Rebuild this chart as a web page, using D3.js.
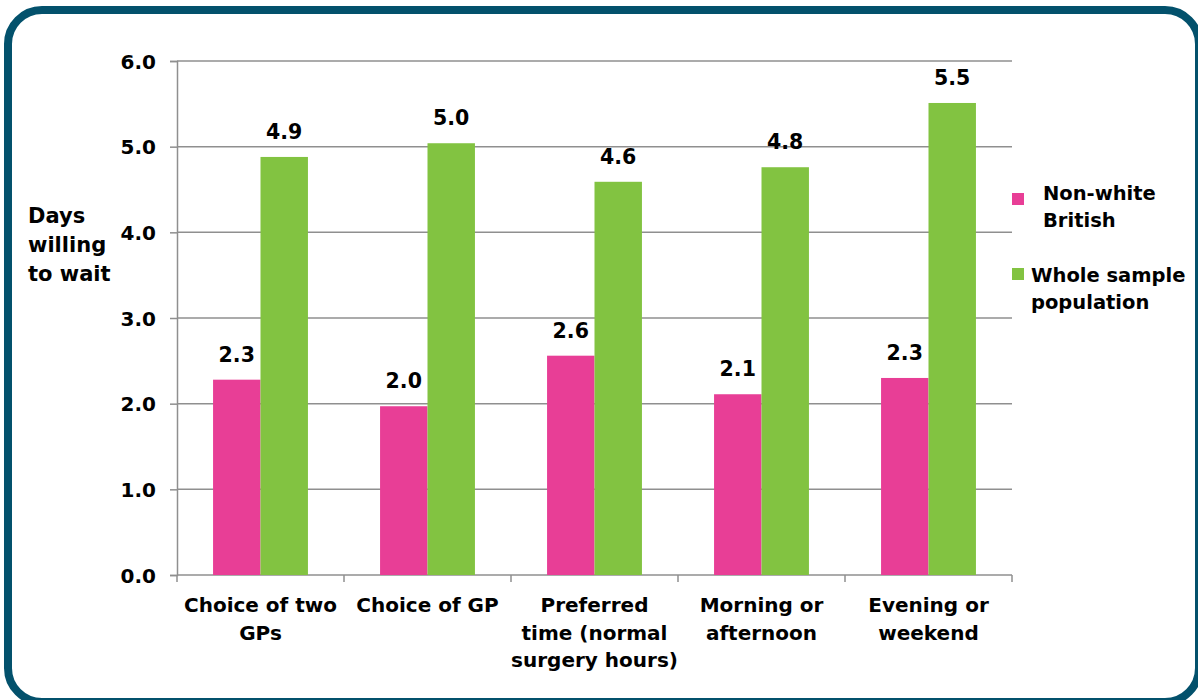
<!DOCTYPE html>
<html><head><meta charset="utf-8">
<script src="https://cdn.jsdelivr.net/npm/d3@7"></script>
<style>body{margin:0;background:#fff;} text{font-family:"DejaVu Sans",sans-serif;font-weight:bold;fill:#000;}</style>
</head><body>
<svg id="chart" width="1198" height="700"></svg>
<script>
const categories = [["Choice of two","GPs"],["Choice of GP"],["Preferred","time (normal","surgery hours)"],["Morning or","afternoon"],["Evening or","weekend"]];
const seriesNames = [["Non-white","British"],["Whole sample","population"]];
const nonWhite = [2.28, 1.97, 2.56, 2.11, 2.30];
const wholeSample = [4.88, 5.04, 4.59, 4.76, 5.51];
const yTicks = [0,1,2,3,4,5,6];
const colors = ["#E83E96","#82C341"];

const svg = d3.select("#chart");
svg.append("rect").attr("x",8).attr("y",10).attr("width",1191).attr("height",692)
  .attr("rx",34).attr("fill","#fff").attr("stroke","#03516C").attr("stroke-width",8);

const pLeft=177, pRight=1012, pTop=61, pBottom=575;
const y = d3.scaleLinear().domain([0,6]).range([pBottom,pTop]);
const x0 = d3.scaleBand().domain(d3.range(categories.length)).range([pLeft,pRight]).paddingInner(0).paddingOuter(0);
const x1 = d3.scaleBand().domain([0,1]).range([0,x0.bandwidth()]).paddingOuter(0.76).paddingInner(0);

// gridlines
svg.append("g").selectAll("line").data(yTicks.filter(d=>d>0)).join("line")
  .attr("x1",pLeft).attr("x2",pRight).attr("y1",d=>y(d)).attr("y2",d=>y(d))
  .attr("stroke","#8f8f8f").attr("stroke-width",1.5);

// y axis
const ya = svg.append("g").attr("transform",`translate(${pLeft},0)`)
  .call(d3.axisLeft(y).tickValues(yTicks).tickFormat(d3.format(".1f")).tickSize(7).tickPadding(14));
ya.select(".domain").attr("stroke","#8f8f8f").attr("stroke-width",1.5);
ya.selectAll(".tick line").attr("stroke","#8f8f8f").attr("stroke-width",1.5);
ya.selectAll("text").style("font-size","20px").attr("dy","0.35em");

// x axis
const xa = svg.append("g").attr("transform",`translate(0,${pBottom})`);
xa.append("line").attr("x1",pLeft).attr("x2",pRight).attr("stroke","#8f8f8f").attr("stroke-width",1.5);
xa.selectAll("line.t").data(d3.range(categories.length+1)).join("line").attr("class","t")
  .attr("x1",i=>pLeft+i*x0.bandwidth()).attr("x2",i=>pLeft+i*x0.bandwidth()).attr("y1",0).attr("y2",7)
  .attr("stroke","#8f8f8f").attr("stroke-width",1.5);
xa.selectAll("text").data(categories).join("text")
  .attr("text-anchor","middle").style("font-size","20px")
  .attr("transform",(d,i)=>`translate(${x0(i)+x0.bandwidth()/2},0)`)
  .each(function(lines){
    d3.select(this).selectAll("tspan").data(lines).join("tspan")
      .attr("x",0).attr("y",(l,j)=>37+j*27.5).text(l=>l);
  });

// bars
const series=[nonWhite, wholeSample];
const g = svg.append("g");
series.forEach((vals,s)=>{
  g.selectAll(null).data(vals).join("rect")
    .attr("x",(v,i)=>x0(i)+x1(s)).attr("width",x1.bandwidth())
    .attr("y",v=>y(v)).attr("height",v=>pBottom-y(v)).attr("fill",colors[s]);
  g.selectAll(null).data(vals).join("text")
    .attr("x",(v,i)=>x0(i)+x1(s)+x1.bandwidth()/2).attr("y",v=>y(v)-18)
    .attr("text-anchor","middle").style("font-size","20.5px").text(v=>d3.format(".1f")(v));
});

// y title
svg.append("text").style("font-size","21px").selectAll("tspan").data(["Days","willing","to wait"]).join("tspan")
  .attr("x",28).attr("y",(d,i)=>223+i*29).text(d=>d);

// legend
const legendPos=[{sx:1012,sy:193,tx:1043,ty:200},{sx:1012,sy:268,tx:1031,ty:282}];
seriesNames.forEach((lines,s)=>{
  const p=legendPos[s];
  svg.append("rect").attr("x",p.sx).attr("y",p.sy).attr("width",12).attr("height",12).attr("fill",colors[s]);
  svg.append("text").style("font-size","19.5px").selectAll("tspan").data(lines).join("tspan")
    .attr("x",p.tx).attr("y",(d,i)=>p.ty+i*27).text(d=>d);
});
</script>
</body></html>
